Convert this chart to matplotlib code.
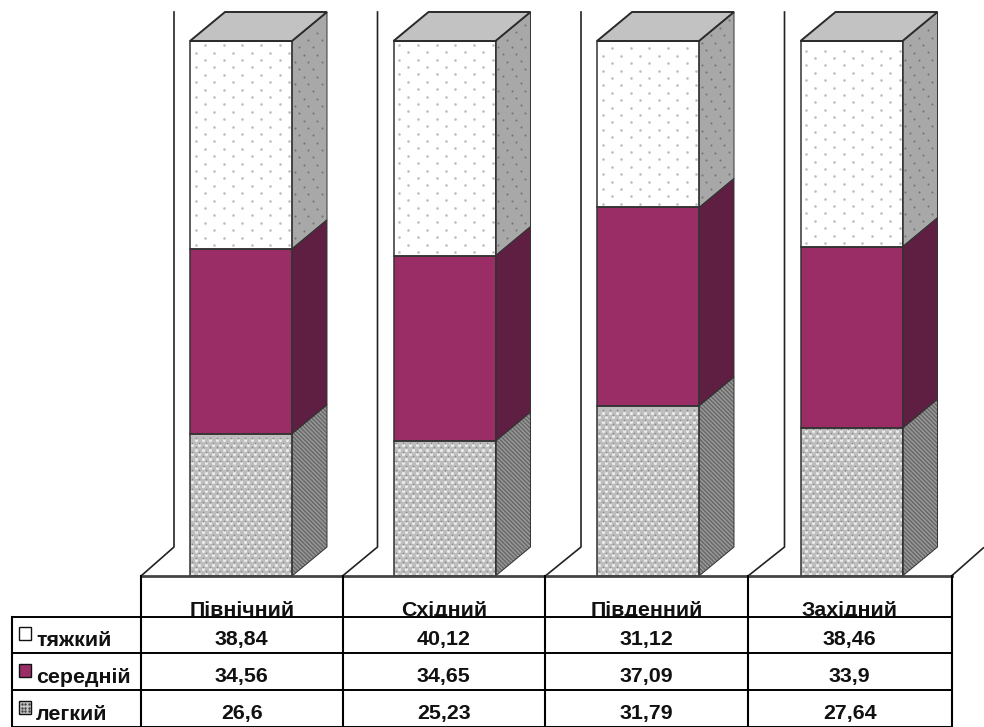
import numpy as np
import matplotlib
matplotlib.use('Agg')
import matplotlib.pyplot as plt
from matplotlib.patches import Polygon, Rectangle

plt.rcParams['font.family'] = ['Liberation Sans', 'DejaVu Sans']

regions = ['Північний', 'Східний', 'Південний', 'Західний']
severity = ['тяжкий', 'середній', 'легкий']
heavy = [38.84, 40.12, 31.12, 38.46]
medium = [34.56, 34.65, 37.09, 33.9]
light = [26.6, 25.23, 31.79, 27.64]
heavy_labels = ['38,84', '40,12', '31,12', '38,46']
medium_labels = ['34,56', '34,65', '37,09', '33,9']
light_labels = ['26,6', '25,23', '31,79', '27,64']

W, H = 984, 727
X0 = 141
Y0, Y100 = 576, 41     # floor and 100 % level of the front faces
UX = 203.5
UY = (Y0 - Y100) / 100
BAR_W = 102 / UX
DX = 35 / UX
DY = 29 / UY
BAR_START = 49 / UX
WALL_GAP = 16 / UX
cols = [141, 342.5, 545.3, 748, 951.5]
rows = [617, 653, 690, 727]

fig = plt.figure(figsize=(W / 100, H / 100), dpi=100)

# chart axes: x in categories, y in percent
ax = fig.add_axes([0, 0, 1, 1])
ax.set_xlim(-X0 / UX, (W - X0) / UX)
ax.set_ylim(-(H - Y0) / UY, Y0 / UY)
ax.axis('off')

# pixel axes for the data table
tb = fig.add_axes([0, 0, 1, 1])
tb.set_xlim(0, W)
tb.set_ylim(H, 0)
tb.axis('off')
tb.patch.set_alpha(0)


def dots(x, y0, y1, sx, sy, color, size, shear=0.0, width=BAR_W, shift=0.0):
    # staggered dot texture inside a front or side face
    nx = int(width * UX / sx) + 2
    ny = int((y1 - y0) * UY / sy)
    pts = []
    for r in range(ny):
        yy = y0 + (r + 0.5 + shift) * sy / UY
        for c in range(nx):
            xx = x + (c + 0.5 * (r % 2) + 0.3) * sx / UX
            if xx < x + width - 0.004 and yy < y1:
                pts.append((xx, yy + (xx - x) * shear))
    if pts:
        pts = np.array(pts)
        ax.scatter(pts[:, 0], pts[:, 1], s=size, c=color, linewidths=0, zorder=4)


def segment(x, y0, y1, front, side, kind):
    xr = x + BAR_W
    ax.add_patch(Rectangle((x, y0), BAR_W, y1 - y0, fc=front, ec='none', zorder=3))
    side_pts = [(xr, y0), (xr + DX, y0 + DY), (xr + DX, y1 + DY), (xr, y1)]
    shear = DY / DX
    if kind == 'light':
        ax.add_patch(Polygon(side_pts, fc=side, ec='#9a9a9a', lw=0, hatch='\\\\\\\\\\\\\\\\', zorder=3))
        dots(x, y0, y1, 7.0, 4.6, '#ececec', 5, 0)
        dots(x, y0, y1, 7.0, 4.6, '#8c8c8c', 1.6, 0, shift=0.5)
    else:
        ax.add_patch(Polygon(side_pts, fc=side, ec='none', zorder=3))
    if kind == 'heavy':
        dots(x, y0, y1, 18.7, 7.4, '#bdbdbd', 3.5, 0)
        dots(xr, y0 + DY * 0.1, y1 + DY * 0.1, 9, 11, '#747474', 2.2, shear, DX)
    # outlines
    ax.add_patch(Rectangle((x, y0), BAR_W, y1 - y0, fc='none', ec='#333333', lw=1.1, zorder=5))
    ax.add_patch(Polygon(side_pts, fc='none', ec='#333333', lw=0.7, zorder=5))


for i in range(len(regions)):
    x = i + BAR_START
    # back wall, then the slanted floor edge
    wall_x = x - WALL_GAP
    floor_x = (cols[i] - X0) / UX
    ax.plot([wall_x, wall_x, floor_x], [100 + DY, DY, 0], color='#222222', lw=1.2, zorder=1)

    a = light[i]
    b = a + medium[i]
    c = b + heavy[i]
    segment(x, 0, a, '#bebebe', '#696969', 'light')
    segment(x, a, b, '#9b2d66', '#5f1f42', 'medium')
    segment(x, b, c, '#ffffff', '#a8a8a8', 'heavy')
    ax.add_patch(Polygon([(x, c), (x + DX, c + DY), (x + BAR_W + DX, c + DY), (x + BAR_W, c)],
                         fc='#c2c2c2', ec='#2a2a2a', lw=1.4, zorder=5))

# last slanted floor edge on the right
end_x = (cols[-1] - X0) / UX
ax.plot([end_x, end_x + DX * 0.91], [0, DY * 0.97], color='#222222', lw=1.2, zorder=1)

# table grid
tb.plot([X0, cols[-1]], [576, 576], color='#444444', lw=2.0, zorder=6)
for y in rows:
    tb.plot([12, cols[-1]], [y, y], color='black', lw=1.4, zorder=6)
for x in cols:
    tb.plot([x, x], [576, H], color='black', lw=1.5, zorder=6)
tb.plot([12, 12], [617, H], color='black', lw=1.5, zorder=6)

font = dict(fontsize=15.4, fontweight='bold', color='#111111')
for i, name in enumerate(regions):
    xc = (cols[i] + cols[i + 1]) / 2
    tb.text(xc, 616.5, name, ha='center', va='baseline', zorder=2, **font)
    for y, labels in zip([645, 682, 719], [heavy_labels, medium_labels, light_labels]):
        tb.text(xc, y, labels[i], ha='center', va='baseline', zorder=7, **font)

# header descenders stop at the first row line
tb.add_patch(Rectangle((X0, 617), cols[-1] - X0, 30, fc='white', ec='none', zorder=3))

# legend keys inside the first column
key_y = [627, 664, 701]
key_fc = ['white', '#9b2d66', '#c8c8c8']
for y, name, fc in zip(key_y, severity, key_fc):
    tb.add_patch(Rectangle((19, y), 12, 13, fc=fc, ec='#111111', lw=1.0, zorder=7))
    tb.text(36, y + 19, name, ha='left', va='baseline', zorder=7, **font)
for px in (21.5, 25, 28.5):
    for py in (704, 707.5, 711):
        tb.scatter(px, py, s=3, c='#444444', linewidths=0, zorder=8)

fig.savefig('out.png', dpi=100)
